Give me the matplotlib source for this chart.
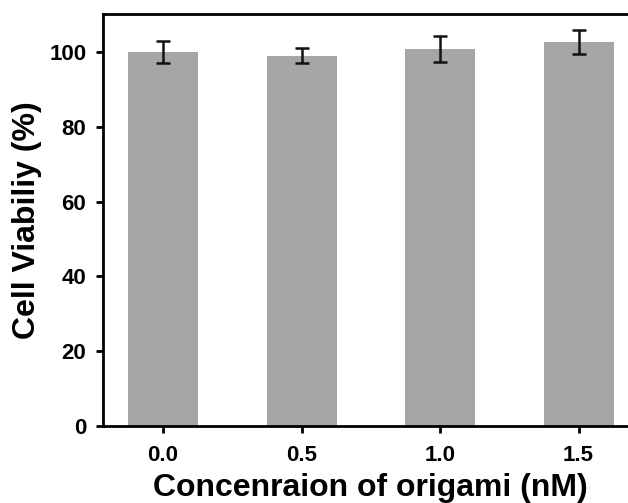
import matplotlib.pyplot as plt

plt.rcParams["font.family"] = ["Liberation Sans", "DejaVu Sans"]
plt.rcParams["font.weight"] = "bold"

concentrations = [0.0, 0.5, 1.0, 1.5]
viability = [100.0, 99.0, 100.9, 102.8]
errors = [3.0, 2.0, 3.5, 3.2]
tick_labels = ["0.0", "0.5", "1.0", "1.5"]


def main():
    fig = plt.figure(figsize=(6.28, 5.03), dpi=100)
    # the original is cropped on the right, so the frame runs past the edge
    ax = fig.add_axes([103 / 628, 1 - 426 / 503, 534 / 628, 412 / 503])

    ax.bar(concentrations, viability, width=0.253, color="#a6a6a6",
           yerr=errors, capsize=5,
           error_kw={"elinewidth": 1.8, "capthick": 1.8, "ecolor": "#111111"})

    ax.set_xlim(-0.217, -0.217 + 534 / 277)
    ax.set_ylim(0, 110.2)
    ax.set_xticks(concentrations)
    ax.set_xticklabels(tick_labels)
    ax.set_yticks(range(0, 101, 20))

    for side in ["left", "bottom", "top", "right"]:
        ax.spines[side].set_linewidth(2)
    ax.tick_params(direction="out", length=5, width=2, labelsize=16)
    ax.tick_params(axis="x", pad=9)
    ax.tick_params(axis="y", pad=7)

    ax.set_xlabel("Concenraion of origami (nM)", fontsize=23, fontweight="bold", labelpad=5)
    ax.set_ylabel("Cell Viabiliy (%)", fontsize=23, fontweight="bold", labelpad=5)

    fig.savefig("out.png", dpi=100)
    plt.close(fig)


if __name__ == "__main__":
    main()
